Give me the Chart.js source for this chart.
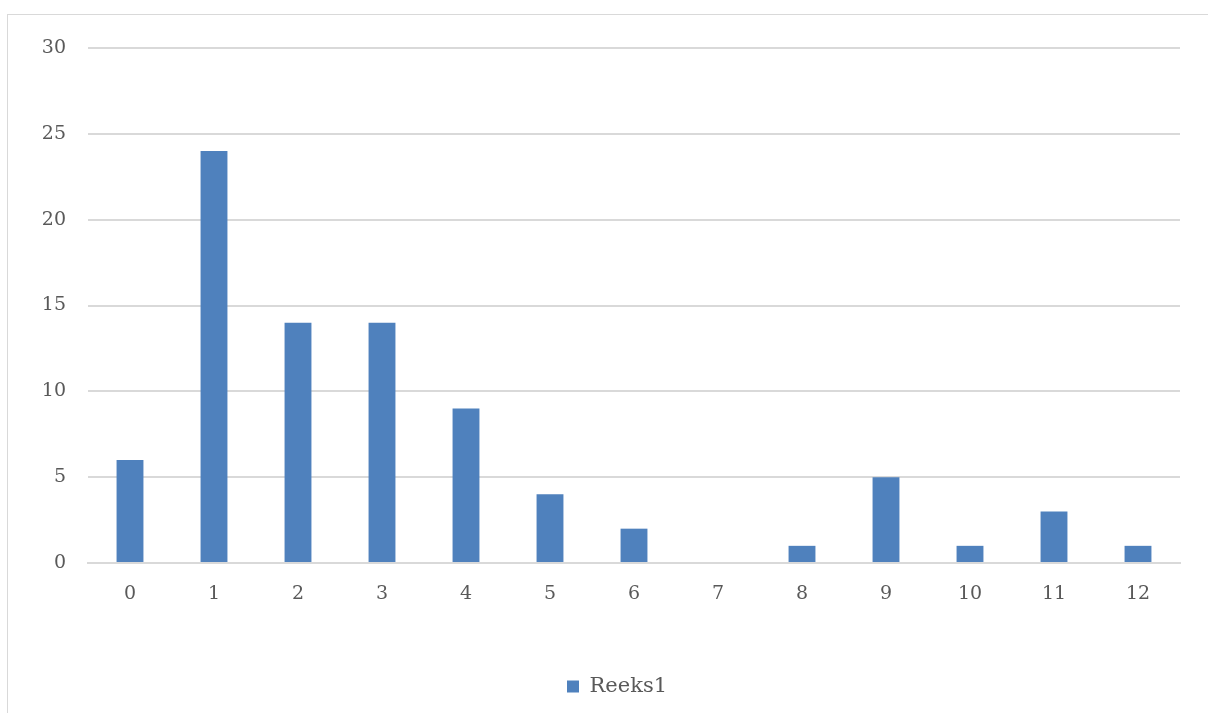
<!DOCTYPE html>
<html>
<head>
<meta charset="utf-8">
<script src="https://cdn.jsdelivr.net/npm/chart.js@4"></script>
<style>
    html, body { margin: 0; padding: 0; background: #fff; overflow: hidden; }
    #frame { position: absolute; left: 7px; top: 14px; width: 1240px; height: 740px; border: 1px solid #D9D9D9; }
    #wrap { position: absolute; left: 0; top: 0; width: 1208px; height: 713px; }
</style>
</head>
<body>
<div id="frame"></div>
<div id="wrap"><canvas id="chart"></canvas></div>
<script>
var categories = ["0", "1", "2", "3", "4", "5", "6", "7", "8", "9", "10", "11", "12"];
var reeks1 = [6, 24, 14, 14, 9, 4, 2, 0, 1, 5, 1, 3, 1];
var seriesName = "Reeks1";
var barColor = "#4F81BD";
var textColor = "#595959";
var gridColor = "#D9D9D9";
var fontFamily = "'DejaVu Serif', 'Liberation Serif', serif";

// the legend in the original sits a bit right of the plot centre
var shiftLegend = {
    id: "shiftLegend",
    afterLayout: (chart) => {
        chart.legend.left += 27;
        chart.legend.right += 27;
    }
};

new Chart("chart", {
    type: "bar",
    data: {
        labels: categories,
        datasets: [{
            label: seriesName,
            data: reeks1,
            backgroundColor: barColor,
            barPercentage: 0.32,
            categoryPercentage: 1
        }]
    },
    plugins: [shiftLegend],
    options: {
        responsive: true,
        maintainAspectRatio: false,
        animation: false,
        layout: {
            padding: { left: 0, right: 28, top: 48, bottom: 6 }
        },
        plugins: {
            legend: {
                position: "bottom",
                labels: {
                    color: textColor,
                    font: { family: fontFamily, size: 21 },
                    boxWidth: 12,
                    boxHeight: 12,
                    padding: 10
                }
            },
            tooltip: { enabled: false }
        },
        scales: {
            x: {
                grid: { display: false, drawTicks: false },
                border: { color: gridColor, width: 2 },
                ticks: {
                    color: textColor,
                    font: { family: fontFamily, size: 19 },
                    padding: 20
                },
                afterFit: (s) => { s.height = 103; }
            },
            y: {
                min: 0,
                max: 30,
                grid: { color: gridColor, lineWidth: 2, drawTicks: false },
                border: { display: false },
                ticks: {
                    stepSize: 5,
                    color: textColor,
                    font: { family: fontFamily, size: 19 },
                    padding: 22
                },
                afterFit: (s) => { s.width = 88; }
            }
        }
    }
});
</script>
</body>
</html>
